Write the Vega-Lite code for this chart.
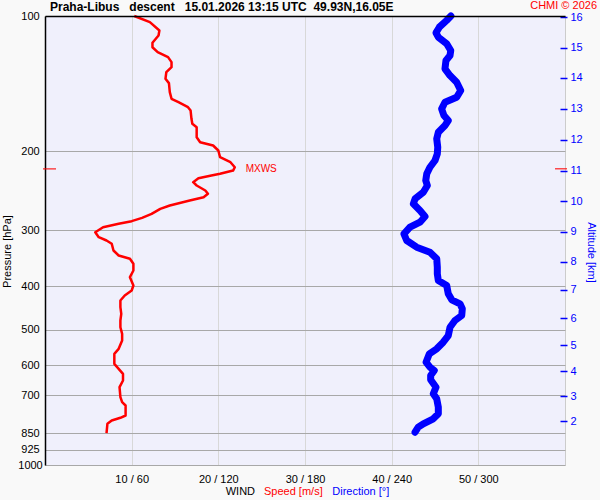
{
  "$schema": "https://vega.github.io/schema/vega-lite/v6.json",
  "width": 520,
  "height": 449,
  "autosize": {"type": "none"},
  "padding": {"left": 45, "top": 16, "right": 35, "bottom": 35},
  "background": "#f9f9f9",
  "config": {"view": {"fill": "#f0f0fc", "stroke": "#cccccc"}, "font": "Liberation Sans"},
  "datasets": {
    "speed": [
      {"p": 100, "s": 10.3}, {"p": 103.2, "s": 12.1}, {"p": 107.7, "s": 13.2}, {"p": 110.5, "s": 13.1}, {"p": 114.7, "s": 12.4},
      {"p": 117.4, "s": 12.4}, {"p": 120.4, "s": 13.0}, {"p": 123.5, "s": 14.2}, {"p": 126.7, "s": 14.6}, {"p": 130.0, "s": 14.6},
      {"p": 133.4, "s": 14.0}, {"p": 138.0, "s": 13.9}, {"p": 141.1, "s": 14.3}, {"p": 147.8, "s": 14.4}, {"p": 152.9, "s": 14.6},
      {"p": 155.6, "s": 15.4}, {"p": 159.6, "s": 16.5}, {"p": 162.4, "s": 16.8}, {"p": 169.4, "s": 16.9}, {"p": 173.8, "s": 17.0},
      {"p": 176.9, "s": 17.5}, {"p": 186.2, "s": 17.5}, {"p": 191.0, "s": 17.9}, {"p": 194.3, "s": 19.4}, {"p": 199.3, "s": 20.0},
      {"p": 206.3, "s": 20.2}, {"p": 211.7, "s": 21.4}, {"p": 217.2, "s": 21.9}, {"p": 220.9, "s": 21.7}, {"p": 224.6, "s": 20.2},
      {"p": 226.6, "s": 19.2}, {"p": 229.8, "s": 17.7}, {"p": 234.5, "s": 17.1}, {"p": 238.5, "s": 17.5}, {"p": 244.7, "s": 18.5},
      {"p": 248.9, "s": 18.8}, {"p": 253.3, "s": 18.3}, {"p": 257.6, "s": 16.7}, {"p": 264.3, "s": 14.4}, {"p": 268.8, "s": 13.3},
      {"p": 275.8, "s": 12.3}, {"p": 281.5, "s": 11.2}, {"p": 286.4, "s": 10.0}, {"p": 290.3, "s": 8.5}, {"p": 295.4, "s": 6.7},
      {"p": 303.1, "s": 5.8}, {"p": 310.9, "s": 6.2}, {"p": 316.2, "s": 7.1}, {"p": 321.6, "s": 7.7}, {"p": 332.9, "s": 7.9},
      {"p": 341.5, "s": 8.5}, {"p": 347.3, "s": 9.8}, {"p": 356.4, "s": 10.2}, {"p": 368.8, "s": 10.2}, {"p": 381.7, "s": 9.8},
      {"p": 398.3, "s": 10.2}, {"p": 408.7, "s": 10.0}, {"p": 419.3, "s": 9.2}, {"p": 430.2, "s": 8.7}, {"p": 445.2, "s": 8.7},
      {"p": 460.5, "s": 8.8}, {"p": 476.6, "s": 8.7}, {"p": 493.3, "s": 8.7}, {"p": 510.3, "s": 8.9}, {"p": 528.1, "s": 8.9},
      {"p": 551.1, "s": 8.5}, {"p": 565.4, "s": 8.0}, {"p": 595.2, "s": 8.0}, {"p": 610.6, "s": 8.5}, {"p": 626.5, "s": 9.0},
      {"p": 648.4, "s": 9.0}, {"p": 671.0, "s": 8.6}, {"p": 706.3, "s": 8.7}, {"p": 724.7, "s": 8.9}, {"p": 737.0, "s": 9.3},
      {"p": 775.8, "s": 9.3}, {"p": 785.0, "s": 8.7}, {"p": 796.0, "s": 7.7}, {"p": 809.6, "s": 7.2}, {"p": 849.0, "s": 7.1}
    ],
    "dir": [
      {"p": 100, "d": 281}, {"p": 102.3, "d": 278}, {"p": 105.9, "d": 273}, {"p": 109.0, "d": 270.7}, {"p": 111.5, "d": 272.3},
      {"p": 115.3, "d": 278.1}, {"p": 119.4, "d": 280.9}, {"p": 122.5, "d": 280.4}, {"p": 125.6, "d": 277.6}, {"p": 131.1, "d": 276.9},
      {"p": 135.7, "d": 280.4}, {"p": 140.4, "d": 285.0}, {"p": 146.5, "d": 287.8}, {"p": 151.7, "d": 285.0}, {"p": 155.6, "d": 276.9},
      {"p": 161.0, "d": 274.6}, {"p": 166.6, "d": 276.2}, {"p": 170.9, "d": 279.2}, {"p": 175.3, "d": 276.9}, {"p": 181.5, "d": 272.3},
      {"p": 187.7, "d": 271.2}, {"p": 196.0, "d": 271.9}, {"p": 202.7, "d": 271.6}, {"p": 209.8, "d": 270.0}, {"p": 217.2, "d": 266.5},
      {"p": 224.6, "d": 264.3}, {"p": 232.5, "d": 263.6}, {"p": 238.5, "d": 264.7}, {"p": 246.9, "d": 261.9}, {"p": 255.4, "d": 256.2},
      {"p": 262.0, "d": 255.0}, {"p": 271.1, "d": 259.6}, {"p": 279.6, "d": 263.1}, {"p": 287.9, "d": 259.6}, {"p": 295.4, "d": 252.7},
      {"p": 305.6, "d": 248.5}, {"p": 316.2, "d": 250.4}, {"p": 327.3, "d": 257.3}, {"p": 335.8, "d": 266.5}, {"p": 347.3, "d": 271.2},
      {"p": 362.6, "d": 271.6}, {"p": 375.1, "d": 271.6}, {"p": 388.2, "d": 272.3}, {"p": 398.3, "d": 278.1}, {"p": 415.6, "d": 279.2},
      {"p": 428.6, "d": 281.6}, {"p": 437.5, "d": 287.3}, {"p": 448.9, "d": 288.9}, {"p": 464.6, "d": 288.5}, {"p": 476.6, "d": 283.8},
      {"p": 493.3, "d": 280.4}, {"p": 514.8, "d": 279.2}, {"p": 532.8, "d": 275.7}, {"p": 551.1, "d": 271.2}, {"p": 565.4, "d": 266.1},
      {"p": 590.3, "d": 263.8}, {"p": 605.6, "d": 266.5}, {"p": 615.9, "d": 269.5}, {"p": 631.9, "d": 267.0}, {"p": 646.0, "d": 267.0},
      {"p": 671.0, "d": 270.7}, {"p": 694.1, "d": 268.8}, {"p": 712.2, "d": 271.2}, {"p": 743.5, "d": 272.3}, {"p": 769.1, "d": 272.3},
      {"p": 789.1, "d": 268.8}, {"p": 809.6, "d": 261.9}, {"p": 823.8, "d": 258.4}, {"p": 845.2, "d": 256.2}
    ],
    "mxws": [{"p": 219, "s": 22.0, "label": "MXWS"}]
  },
  "layer": [
    {
      "layer": [
        {
          "data": {"name": "speed"},
          "mark": {"type": "line", "color": "#ff0000", "strokeWidth": 2.5, "strokeJoin": "round"},
          "encoding": {
            "x": {"field": "s", "type": "quantitative",
                  "scale": {"domain": [0, 60], "nice": false, "zero": false},
                  "axis": {"values": [10, 20, 30, 40, 50], "labelExpr": "datum.value + ' / ' + datum.value * 6", "grid": true, "gridColor": "#d8d8d8", "gridWidth": 1, "ticks": false, "domain": false, "labelPadding": 8, "labelFontSize": 11, "labelColor": "#000000", "labelFont": "Liberation Sans", "title": null}},
            "y": {"field": "p", "type": "quantitative",
                  "scale": {"type": "log", "domain": [100, 1000], "reverse": true, "nice": false},
                  "axis": {"orient": "left", "values": [100, 200, 300, 400, 500, 600, 700, 850, 925, 1000], "format": "d", "grid": true, "gridColor": "#a8a8a8", "gridWidth": 1, "ticks": false, "domain": true, "domainColor": "#000000", "domainWidth": 1.5, "labelAlign": "center", "labelPadding": 15, "labelFontSize": 11, "labelColor": "#000000", "labelFont": "Liberation Sans", "labelBaseline": "middle",
                           "title": "Pressure [hPa]", "titleFontSize": 11, "titleFontWeight": "normal", "titleFont": "Liberation Sans", "titleColor": "#000000", "titleAngle": 270, "titleX": -38, "titleY": 235, "titleBaseline": "middle", "titleAlign": "center"}},
            "order": {"field": "p", "type": "quantitative"}
          }
        },
        {
          "data": {"name": "mxws"},
          "mark": {"type": "text", "color": "#ff0000", "fontSize": 10, "align": "left", "baseline": "middle", "dx": 10, "font": "Liberation Sans"},
          "encoding": {
            "x": {"field": "s", "type": "quantitative"},
            "y": {"field": "p", "type": "quantitative"},
            "text": {"field": "label"}
          }
        },
        {
          "data": {"name": "mxws"},
          "mark": {"type": "tick", "orient": "horizontal", "color": "#ff0000", "size": 13, "thickness": 1.5},
          "encoding": {
            "x": {"datum": 0.52, "type": "quantitative"},
            "y": {"field": "p", "type": "quantitative"}
          }
        },
        {
          "data": {"name": "mxws"},
          "mark": {"type": "tick", "orient": "horizontal", "color": "#ff0000", "size": 12, "thickness": 1.5},
          "encoding": {
            "x": {"datum": 59.54, "type": "quantitative"},
            "y": {"field": "p", "type": "quantitative"}
          }
        },
        {
          "data": {"values": [{"label": "Praha-Libus \u00a0 descent \u00a0 15.01.2026 13:15 UTC \u00a049.93N,16.05E"}]},
          "mark": {"type": "text", "color": "#000000", "fontSize": 12, "fontWeight": "bold", "align": "left", "baseline": "middle", "dx": 5, "dy": -9, "font": "Liberation Sans"},
          "encoding": {
            "x": {"datum": 0, "type": "quantitative"},
            "y": {"datum": 100, "type": "quantitative"},
            "text": {"field": "label"}
          }
        },
        {
          "data": {"values": [{"label": "CHMI © 2026"}]},
          "mark": {"type": "text", "color": "#ff0000", "fontSize": 11, "align": "right", "baseline": "middle", "dx": 32, "dy": -10, "font": "Liberation Sans"},
          "encoding": {
            "x": {"datum": 60, "type": "quantitative"},
            "y": {"datum": 100, "type": "quantitative"},
            "text": {"field": "label"}
          }
        },
        {
          "data": {"values": [{"label": "WIND"}]},
          "mark": {"type": "text", "color": "#000000", "fontSize": 11, "align": "left", "baseline": "middle", "dy": 26.5, "font": "Liberation Sans"},
          "encoding": {
            "x": {"datum": 20.85, "type": "quantitative"},
            "y": {"datum": 1000, "type": "quantitative"},
            "text": {"field": "label"}
          }
        },
        {
          "data": {"values": [{"label": "Speed [m/s]"}]},
          "mark": {"type": "text", "color": "#ff0000", "fontSize": 11, "align": "left", "baseline": "middle", "dy": 26.5, "font": "Liberation Sans"},
          "encoding": {
            "x": {"datum": 25.27, "type": "quantitative"},
            "y": {"datum": 1000, "type": "quantitative"},
            "text": {"field": "label"}
          }
        },
        {
          "data": {"values": [{"label": "Direction [°]"}]},
          "mark": {"type": "text", "color": "#0000ff", "fontSize": 11, "align": "left", "baseline": "middle", "dy": 26.5, "font": "Liberation Sans"},
          "encoding": {
            "x": {"datum": 33.15, "type": "quantitative"},
            "y": {"datum": 1000, "type": "quantitative"},
            "text": {"field": "label"}
          }
        }
      ]
    },
    {
      "data": {"name": "dir"},
      "mark": {"type": "line", "color": "#0000ff", "strokeWidth": 7, "strokeCap": "round", "strokeJoin": "round"},
      "encoding": {
        "x": {"field": "d", "type": "quantitative",
              "scale": {"domain": [0, 360], "nice": false, "zero": false},
              "axis": {"orient": "top", "labels": false, "ticks": false, "grid": false, "domain": true, "domainColor": "#000000", "domainWidth": 1.5, "title": null, "zindex": 1}},
        "y": {"field": "p", "type": "quantitative",
              "scale": {"type": "log", "domain": [100, 1000], "reverse": true, "nice": false},
              "axis": {"orient": "right", "offset": -5, "values": [800, 702.5, 618, 541.8, 471, 407.2, 352.3, 302, 258.9, 220.9, 188.7, 160.9, 137.3, 117.7, 100.6],
                       "labelExpr": "'' + (indexof([800, 702.5, 618, 541.8, 471, 407.2, 352.3, 302, 258.9, 220.9, 188.7, 160.9, 137.3, 117.7, 100.6], datum.value) + 2)",
                       "grid": false, "domain": false, "ticks": true, "tickSize": 7, "tickColor": "#0000ff", "tickWidth": 1.5, "labelPadding": 3, "labelColor": "#0000ff", "labelFontSize": 11, "labelFont": "Liberation Sans", "labelBaseline": "middle", "labelAlign": "left",
                       "title": "Altitude [km]", "titleColor": "#0000ff", "titleFontSize": 11, "titleFontWeight": "normal", "titleFont": "Liberation Sans", "titleAngle": 90, "titleX": 30, "titleY": 236, "titleBaseline": "middle", "titleAlign": "center"}},
        "order": {"field": "p", "type": "quantitative"}
      }
    }
  ],
  "resolve": {"scale": {"x": "independent", "y": "independent"}}
}
